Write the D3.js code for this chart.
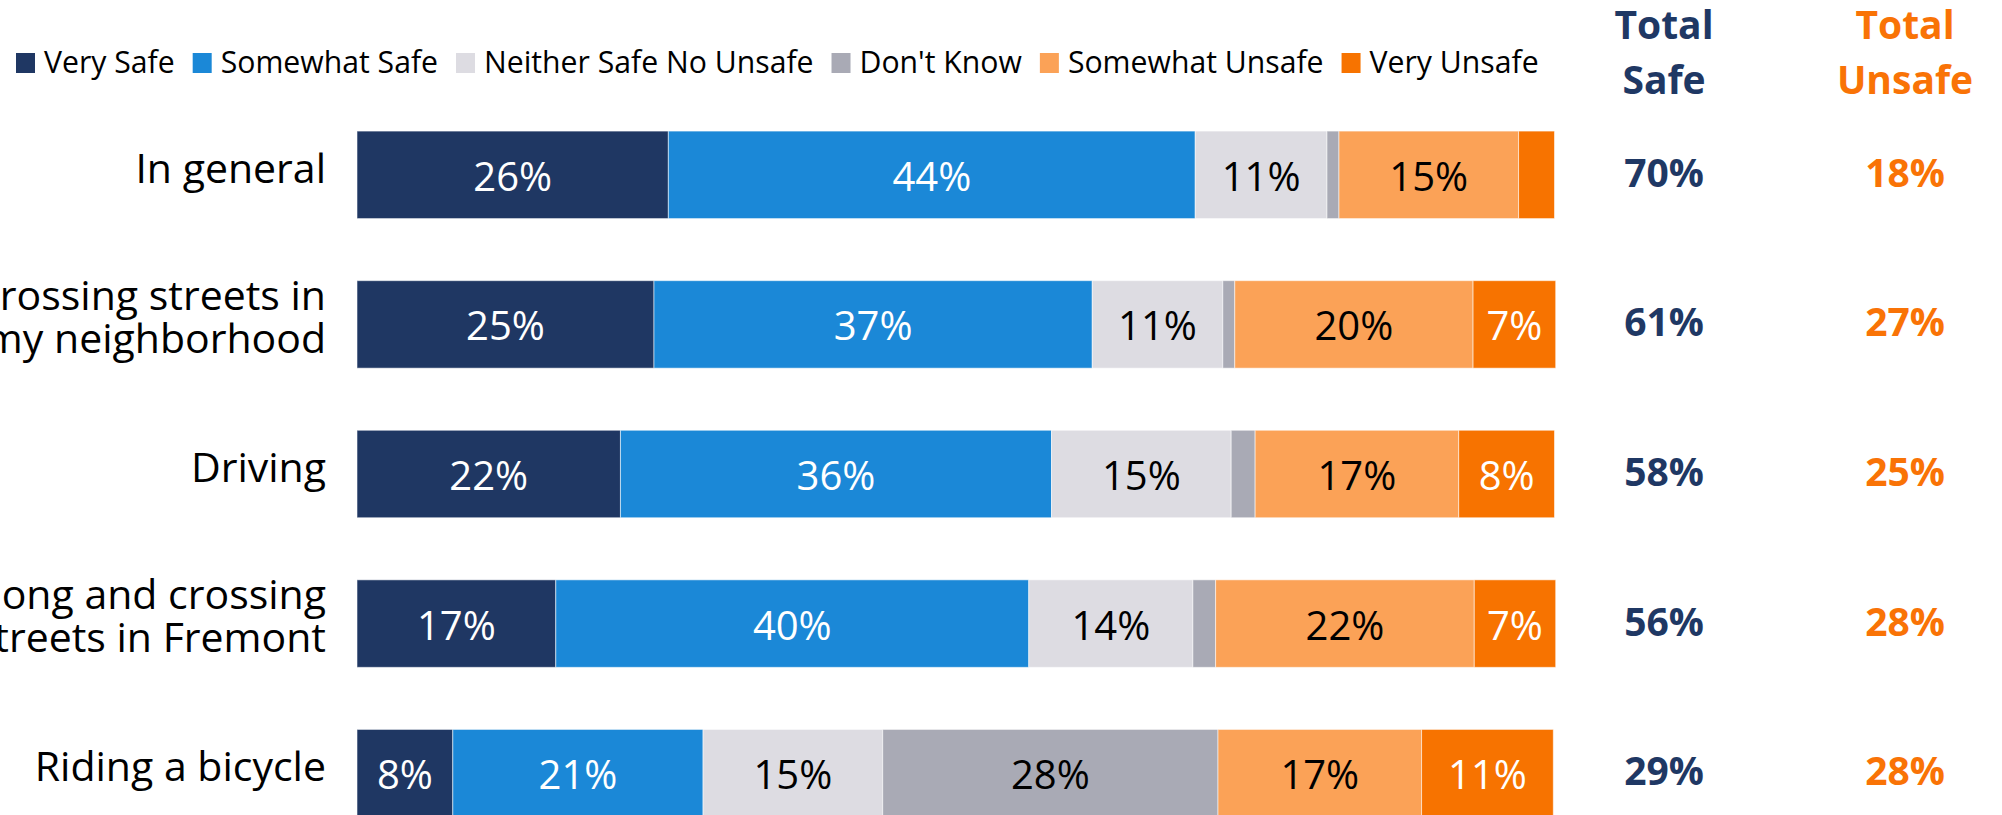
<!DOCTYPE html>
<html>
<head>
<meta charset="utf-8">
<script src="https://cdn.jsdelivr.net/npm/d3@7"></script>
<style>
	html, body { margin: 0; padding: 0; background: #fff; }
	svg { display: block; }
</style>
</head>
<body>
<svg id="chart"></svg>
<script>
// rows, top to bottom (labels wrap onto two lines where the slide did)
const categories = ["In general", "Walking and crossing streets in my neighborhood", "Driving", "Walking along and crossing streets in Fremont", "Riding a bicycle"];
const labelLines = [["In general"], ["Walking and crossing streets in", "my neighborhood"], ["Driving"], ["Walking along and crossing", "streets in Fremont"], ["Riding a bicycle"]];

const series = ["Very Safe", "Somewhat Safe", "Neither Safe No Unsafe", "Don't Know", "Somewhat Unsafe", "Very Unsafe"];

const verySafe = [26, 24.8, 22, 16.6, 8];
const somewhatSafe = [44, 36.6, 36, 39.5, 20.9];
const neitherSafe = [11, 10.9, 15, 13.7, 15];
const dontKnow = [1, 1, 2, 1.9, 28];
const somewhatUnsafe = [15, 19.9, 17, 21.6, 17];
const veryUnsafe = [3, 6.9, 8, 6.8, 11];

const totalSafe = [70, 61, 58, 56, 29];
const totalUnsafe = [18, 27, 25, 28, 28];

class SafetyBars {
	constructor(_config) {
		this.config = {
			parentElement: _config.parentElement,
			containerWidth: _config.containerWidth || 2002,
			containerHeight: _config.containerHeight || 815
		}
		this.initVis();
	}

	initVis() {
		let vis = this;

		vis.font = "'Open Sans', Lato, sans-serif";

		vis.svg = d3.select(vis.config.parentElement)
			.attr("width", vis.config.containerWidth)
			.attr("height", vis.config.containerHeight)
			.style("font-family", vis.font);

		vis.color = d3.scaleOrdinal()
			.domain(series)
			.range(["#1f3763", "#1b88d7", "#dddce2", "#a9aab5", "#fba257", "#f77300"]);

		vis.textColor = d3.scaleOrdinal()
			.domain(series)
			.range(["#fff", "#fff", "#000", "#000", "#000", "#fff"]);

		vis.x = d3.scaleLinear()
			.domain([0, 100])
			.range([357, 1554.5]);

		vis.y = d3.scaleBand()
			.domain(categories)
			.range([69, 879])
			.padding(0.415);

		vis.totalX = {safe: 1664, unsafe: 1905};

		// one row per category, columns per series
		vis.rows = categories.map((c, i) => ({
			category: c,
			"Very Safe": verySafe[i],
			"Somewhat Safe": somewhatSafe[i],
			"Neither Safe No Unsafe": neitherSafe[i],
			"Don't Know": dontKnow[i],
			"Somewhat Unsafe": somewhatUnsafe[i],
			"Very Unsafe": veryUnsafe[i]
		}));

		vis.stack = d3.stack().keys(series);

		vis.updateVis();
	}

	updateVis() {
		let vis = this;
		let stacked = vis.stack(vis.rows);

		// bars
		let layer = vis.svg.append("g").selectAll("g")
			.data(stacked)
			.join("g")
			.attr("fill", d => vis.color(d.key));

		layer.selectAll("rect")
			.data(d => d.map(p => ({key: d.key, p: p})))
			.join("rect")
			.attr("x", d => vis.x(d.p[0]))
			.attr("y", d => vis.y(d.p.data.category))
			.attr("width", d => vis.x(d.p[1]) - vis.x(d.p[0]))
			.attr("height", vis.y.bandwidth())
			.attr("stroke", "#fff")
			.attr("stroke-opacity", 0.55)
			.attr("stroke-width", 1);

		// values inside segments
		layer.selectAll("text")
			.data(d => d.map(p => ({key: d.key, p: p})).filter(d => d.p[1] - d.p[0] >= 4))
			.join("text")
			.attr("x", d => (vis.x(d.p[0]) + vis.x(d.p[1])) / 2)
			.attr("y", d => vis.y(d.p.data.category) + vis.y.bandwidth() / 2 + 16)
			.attr("text-anchor", "middle")
			.attr("fill", d => vis.textColor(d.key))
			.style("font-size", "40px")
			.text(d => d3.format(".0f")(d.p[1] - d.p[0]) + "%");

		// row labels
		let labels = vis.svg.append("g").selectAll("text")
			.data(categories)
			.join("text")
			.attr("text-anchor", "end")
			.style("font-size", "41px")
			.attr("fill", "#000");

		labels.each(function(c, i) {
			let lines = labelLines[i];
			let mid = vis.y(c) + vis.y.bandwidth() / 2;
			let offs = lines.length == 1 ? [8] : [-14.5, 28.5];
			d3.select(this).selectAll("tspan")
				.data(lines)
				.join("tspan")
				.attr("x", 326)
				.attr("y", (l, j) => mid + offs[j])
				.text(l => l);
		});

		// totals columns
		let headers = [
			{key: "safe", lines: ["Total", "Safe"], color: "#1f3864", values: totalSafe},
			{key: "unsafe", lines: ["Total", "Unsafe"], color: "#f97306", values: totalUnsafe}
		];

		headers.forEach(h => {
			let g = vis.svg.append("g")
				.attr("fill", h.color)
				.attr("text-anchor", "middle")
				.style("font-weight", "bold")
				.style("font-size", "39px");

			g.append("text")
				.selectAll("tspan")
				.data(h.lines)
				.join("tspan")
				.attr("x", vis.totalX[h.key])
				.attr("y", (l, j) => 39 + j * 55)
				.text(l => l);

			g.selectAll(".total")
				.data(h.values)
				.join("text")
				.attr("class", "total")
				.attr("x", vis.totalX[h.key])
				.attr("y", (v, i) => vis.y(categories[i]) + vis.y.bandwidth() / 2 + 12)
				.text(v => v + "%");
		});

		// legend across the top
		let legend = vis.svg.append("g");
		let lx = 16;
		series.forEach(s => {
			legend.append("rect")
				.attr("x", lx)
				.attr("y", 53)
				.attr("width", 19)
				.attr("height", 20)
				.attr("fill", vis.color(s));
			let t = legend.append("text")
				.attr("x", lx + 28)
				.attr("y", 72.5)
				.style("font-size", "30.2px")
				.attr("fill", "#000")
				.text(s);
			lx += 28 + t.node().getComputedTextLength() + 18;
		});
	}
}

new SafetyBars({parentElement: "#chart"});
</script>
</body>
</html>
